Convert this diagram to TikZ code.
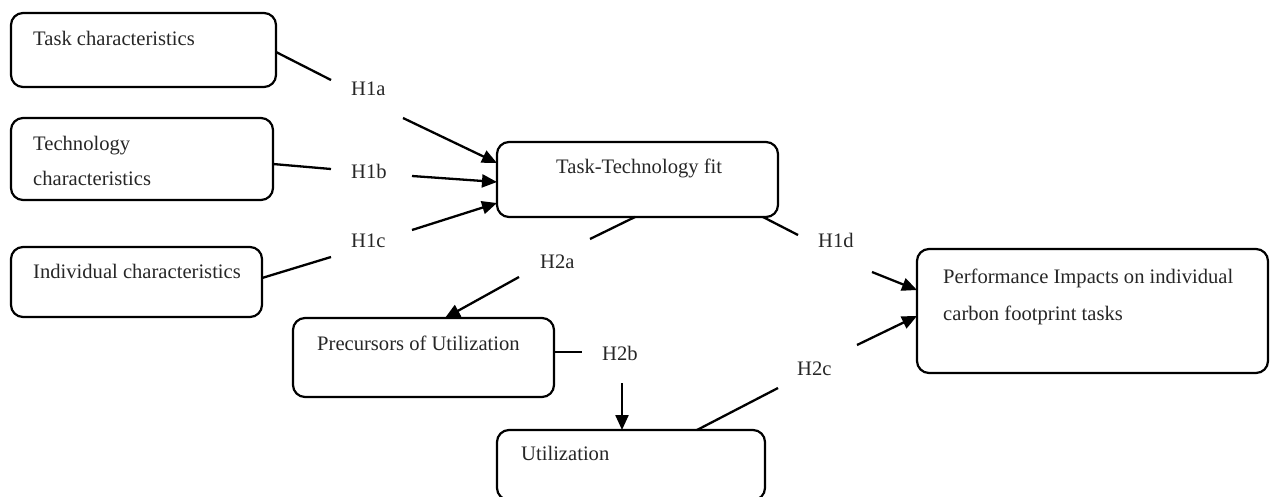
\documentclass[tikz,border=0pt]{standalone}
\usepackage{fontspec}
\setmainfont{Liberation Serif}
\usetikzlibrary{arrows.meta}
\begin{document}
\begin{tikzpicture}[x=1pt,y=-1pt,
  box/.style={draw=black,line width=2.2pt,rounded corners=12pt,inner sep=0pt,outer sep=0pt},
  txt/.style={anchor=base west,inner sep=0pt,text=black!85,font=\fontsize{20.6pt}{24pt}\selectfont},
  link/.style={line width=2.3pt},
  arrowlink/.style={line width=2.3pt,-{Triangle[length=15pt,width=13pt]}}]
\useasboundingbox (0,0) rectangle (1270,496);

% boxes
\node[box,minimum width=265pt,minimum height=74pt] (task) at (143.5,50) {};
\node[box,minimum width=262pt,minimum height=82pt] (tech) at (142,159) {};
\node[box,minimum width=251pt,minimum height=70pt] (indiv) at (136.5,282) {};
\node[box,minimum width=281pt,minimum height=75pt] (ttf) at (637.5,179.5) {};
\node[box,minimum width=261pt,minimum height=79pt] (prec) at (423.5,357.5) {};
\node[box,minimum width=268pt,minimum height=70pt] (util) at (631,465) {};
\node[box,minimum width=351pt,minimum height=124pt] (perf) at (1092.5,311) {};

% box texts
\node[txt] (t1) at (33,45) {Task characteristics};
\node[txt] (t2) at (33,150) {Technology};
\node[txt] (t3) at (33,185) {characteristics};
\node[txt] (t4) at (33,278) {Individual characteristics};
\node[txt] (t5) at (556,173) {Task-Technology fit};
\node[txt] (t6) at (317,350) {Precursors of Utilization};
\node[txt] (t7) at (521,460) {Utilization};
\node[txt] (t8) at (943,283) {Performance Impacts on individual};
\node[txt] (t9) at (943,320) {carbon footprint tasks};

% hypothesis labels
\node[txt] (h1a) at (351,95) {H1a};
\node[txt] (h1b) at (351,178) {H1b};
\node[txt] (h1c) at (351,247) {H1c};
\node[txt] (h2a) at (540,268) {H2a};
\node[txt] (h1d) at (818,247) {H1d};
\node[txt] (h2b) at (602,360) {H2b};
\node[txt] (h2c) at (797,375) {H2c};

% free ends of the broken connectors
\coordinate (a1) at (331,80);  \coordinate (a2) at (403,118);
\coordinate (b1) at (331,169); \coordinate (b2) at (412,176);
\coordinate (c1) at (331,257); \coordinate (c2) at (412,230);
\coordinate (d1) at (590,239); \coordinate (d2) at (519,277);
\coordinate (e1) at (798,235); \coordinate (e2) at (872,272);
\coordinate (f1) at (582,352); \coordinate (f2) at (622,383);
\coordinate (g1) at (778,388); \coordinate (g2) at (857,345);

% H1a
\draw[link] ([yshift=-2pt]task.east) -- (a1);
\draw[arrowlink] (a2) -- ([yshift=16.5pt]ttf.west);
% H1b
\draw[link] ([yshift=-5pt]tech.east) -- (b1);
\draw[arrowlink] (b2) -- ([yshift=-2.5pt]ttf.west);
% H1c
\draw[link] ([yshift=4pt]indiv.east) -- (c1);
\draw[arrowlink] (c2) -- ([yshift=-23.5pt]ttf.west);
% H2a
\draw[link] ([xshift=-2.5pt]ttf.south) -- (d1);
\draw[arrowlink] (d2) -- ([xshift=21.5pt]prec.north);
% H1d
\draw[link] ([xshift=-15pt]ttf.south east) -- (e1);
\draw[arrowlink] (e2) -- ([yshift=21pt]perf.west);
% H2b
\draw[link] ([yshift=5.5pt]prec.east) -- (f1);
\draw[arrowlink] (f2) -- ([xshift=-9pt]util.north);
% H2c
\draw[link] ([xshift=66pt]util.north) -- (g1);
\draw[arrowlink] (g2) -- ([yshift=-5pt]perf.west);
\end{tikzpicture}
\end{document}
